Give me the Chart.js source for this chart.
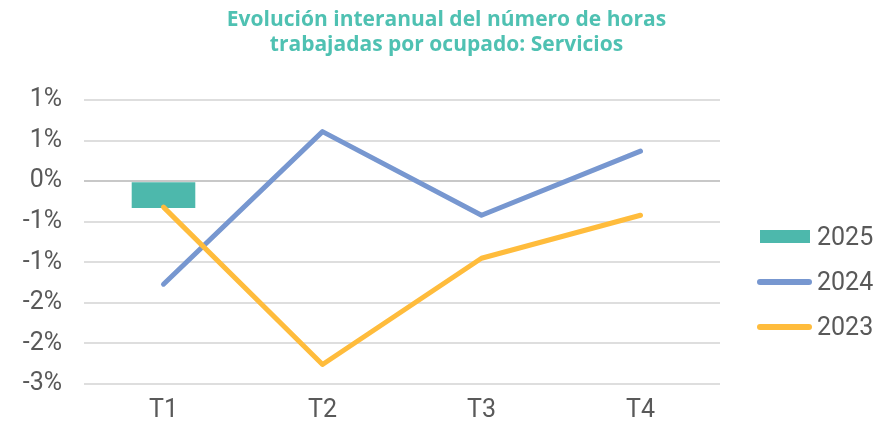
<!DOCTYPE html>
<html>
<head>
<meta charset="utf-8">
<script src="https://cdn.jsdelivr.net/npm/chart.js@4"></script>
<style>
  body { margin: 0; background: #fff; }
  #wrap { position: relative; width: 893px; height: 428px; }
  #legend { position: absolute; left: 757px; top: 214px; font-family: Roboto, sans-serif; font-size: 25px; color: #595959; }
  .item { height: 45px; display: flex; align-items: center; }
  .swatch { width: 55px; margin-right: 5px; }
  .box { height: 13px; width: 50px; margin-left: 3px; margin-right: 7px; }
  .line { height: 6px; border-radius: 3px; }
</style>
</head>
<body>
<div id="wrap">
  <canvas id="myChart" width="893" height="428"></canvas>
  <div id="legend"></div>
</div>
<script>
var labels = ["T1", "T2", "T3", "T4"]; // eje X
var serie2025 = [-0.33, null, null, null];
var serie2024 = [-1.27, 0.61, -0.42, 0.37];
var serie2023 = [-0.32, -2.26, -0.95, -0.42];
var titulo = ["Evolución interanual del número de horas", "trabajadas por ocupado: Servicios"];

var colores = { c2025: '#4DB8AC', c2024: '#7797D0', c2023: '#FFBC3C' };

// etiquetas redondeadas como en Excel (0,5 -> 1)
function etiqueta(v) {
    var r = Math.sign(v) * Math.round(Math.abs(v));
    if (r === 0) r = 0;
    return r + '%';
}

// titulo centrado sobre todo el lienzo (no solo sobre el area del grafico)
var tituloPlugin = {
    id: 'tituloCentrado',
    afterDraw: function (chart) {
        var c = chart.ctx;
        c.save();
        c.font = '700 21px "Open Sans"';
        c.fillStyle = '#4FC1B2';
        c.textAlign = 'center';
        c.textBaseline = 'middle';
        c.fillText(titulo[0], chart.width / 2, 20);
        c.fillText(titulo[1], chart.width / 2, 45);
        c.restore();
    }
};

var ctx = document.getElementById("myChart");
new Chart(ctx, {
    type: 'bar',
    data: {
        labels: labels,
        datasets: [{
            label: "2025",
            data: serie2025,
            backgroundColor: colores.c2025,
            categoryPercentage: 0.8,
            barPercentage: 0.5,
            order: 3
        }, {
            type: 'line',
            label: "2024",
            data: serie2024,
            borderColor: colores.c2024,
            borderWidth: 5,
            borderCapStyle: 'round',
            borderJoinStyle: 'round',
            pointRadius: 0,
            fill: false,
            order: 2
        }, {
            type: 'line',
            label: "2023",
            data: serie2023,
            borderColor: colores.c2023,
            borderWidth: 5,
            borderCapStyle: 'round',
            borderJoinStyle: 'round',
            pointRadius: 0,
            fill: false,
            order: 1
        }]
    },
    plugins: [tituloPlugin],
    options: {
        responsive: false,
        animation: false,
        layout: { padding: { left: 0, right: 173, top: 100, bottom: 0 } },
        plugins: {
            legend: { display: false },
            tooltip: { enabled: false },
            title: { display: false }
        },
        scales: {
            x: {
                afterFit: function (scale) { scale.height = 44; },
                grid: { display: false, drawTicks: false },
                border: { display: false },
                ticks: { color: '#595959', font: { family: 'Roboto', size: 25 }, padding: 12 }
            },
            y: {
                min: -2.5,
                max: 1.0,
                afterFit: function (scale) { scale.width = 84; },
                ticks: {
                    stepSize: 0.5,
                    color: '#595959',
                    font: { family: 'Roboto', size: 25 },
                    padding: 22,
                    callback: function (v) { return etiqueta(v); }
                },
                grid: {
                    drawTicks: false,
                    lineWidth: 2,
                    color: function (c) { return c.tick && c.tick.value === 0 ? '#C8C8C8' : '#DEDEDE'; }
                },
                border: { display: false }
            }
        }
    }
});

// leyenda a la derecha
var items = [
    { txt: "2025", cls: 'box', col: colores.c2025 },
    { txt: "2024", cls: 'line', col: colores.c2024 },
    { txt: "2023", cls: 'line', col: colores.c2023 }
];
var leg = document.getElementById("legend");
items.forEach(function (it) {
    var d = document.createElement('div');
    d.className = 'item';
    var s = document.createElement('div');
    s.className = it.cls === 'box' ? 'box' : 'swatch line';
    s.style.background = it.col;
    d.appendChild(s);
    var t = document.createElement('span');
    t.textContent = it.txt;
    d.appendChild(t);
    leg.appendChild(d);
});
</script>
</body>
</html>
